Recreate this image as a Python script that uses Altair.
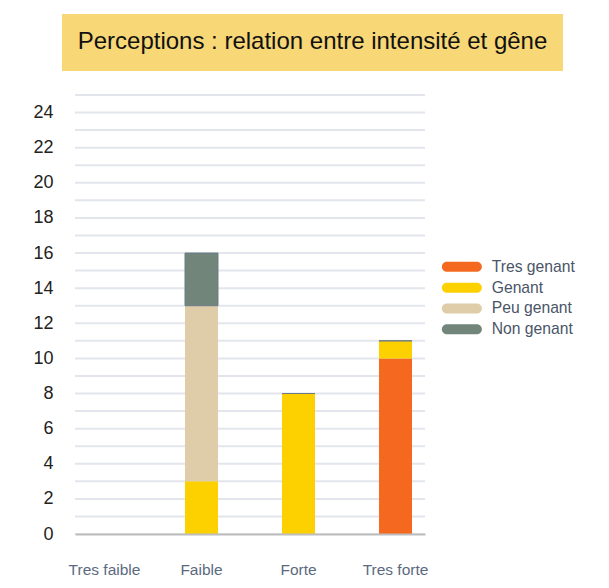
import altair as alt
import pandas as pd

categories = ["Tres faible", "Faible", "Forte", "Tres forte"]
series = ["Tres genant", "Genant", "Peu genant", "Non genant"]
colors = ["#f4691f", "#fdd000", "#dfcca9", "#71857a"]
tres_genant = [0, 0, 0, 10]
genant = [0, 3, 8, 1]
peu_genant = [0, 10, 0, 0]
non_genant = [0, 3, 0, 0]
y_grid = list(range(0, 26))
y_labels = list(range(0, 25, 2))
title_text = "Perceptions : relation entre intensité et gêne"

values = [tres_genant, genant, peu_genant, non_genant]
rows = []
for si, (s, vals) in enumerate(zip(series, values)):
    for c, v in zip(categories, vals):
        rows.append({"cat": c, "serie": s, "val": v, "ord": si})
df = pd.DataFrame(rows)
grid_df = pd.DataFrame({"g": y_grid})
title_df = pd.DataFrame({"t": [title_text]})

FONT = "Arial"
ydom = [0, 25]

yaxis = alt.Axis(title=None, values=y_labels, grid=False, ticks=False,
                 domain=False, labelFontSize=18, labelColor="#222222",
                 labelFont=FONT, labelPadding=22)

grid = alt.Chart(grid_df).mark_rule(color="#e2e6ec", strokeWidth=2).encode(
    y=alt.Y("g:Q", scale=alt.Scale(domain=ydom, nice=False), axis=yaxis)
)

pill = "M0,-1 L6,-1 A1,1 0 0 1 6,1 L0,1 A1,1 0 0 1 0,-1 Z"

bars = alt.Chart(df).mark_bar(strokeWidth=1).encode(
    x=alt.X("cat:N", sort=categories,
            scale=alt.Scale(paddingInner=0.66, paddingOuter=0.134),
            axis=alt.Axis(title=None, labelAngle=0, ticks=False, domain=True,
                          domainColor="#bdbdbd", domainWidth=2, zindex=1,
                          labelFontSize=15.5, labelColor="#5b6a80", labelFont=FONT,
                          labelPadding=28, grid=False)),
    y=alt.Y("val:Q", stack="zero", scale=alt.Scale(domain=ydom, nice=False), axis=yaxis),
    color=alt.Color("serie:N", sort=series,
                    scale=alt.Scale(domain=series, range=colors),
                    legend=alt.Legend(title=None, orient="none", legendX=364, legendY=164,
                                      symbolType=pill, symbolSize=100,
                                      symbolStrokeWidth=0, labelOffset=37,
                                      labelFontSize=15.7, labelColor="#4a5568",
                                      labelFont=FONT, rowPadding=3.8)),
    order=alt.Order("ord:Q", sort="ascending"),
    stroke=alt.condition("datum.serie === 'Non genant' && datum.val_end > 0",
                         alt.value("#6c7c88"), alt.value("transparent")),
)

box = alt.Chart(title_df).mark_rect(color="#f8d776").encode(
    x=alt.value(-13), x2=alt.value(488), y=alt.value(-81), y2=alt.value(-24)
)
ttext = alt.Chart(title_df).mark_text(fontSize=24, font=FONT, color="#111111",
                                      align="center", baseline="middle").encode(
    text="t:N", x=alt.value(237.5), y=alt.value(-53)
)

chart = alt.layer(grid, bars, box, ttext).properties(
    width=350, height=439,
    padding={"left": 67, "top": 87, "right": 170, "bottom": 45},
    autosize=alt.AutoSizeParams(type="none"),
).configure_view(stroke=None)

chart.save("out.html", embed_options={"renderer": "svg", "actions": False})
